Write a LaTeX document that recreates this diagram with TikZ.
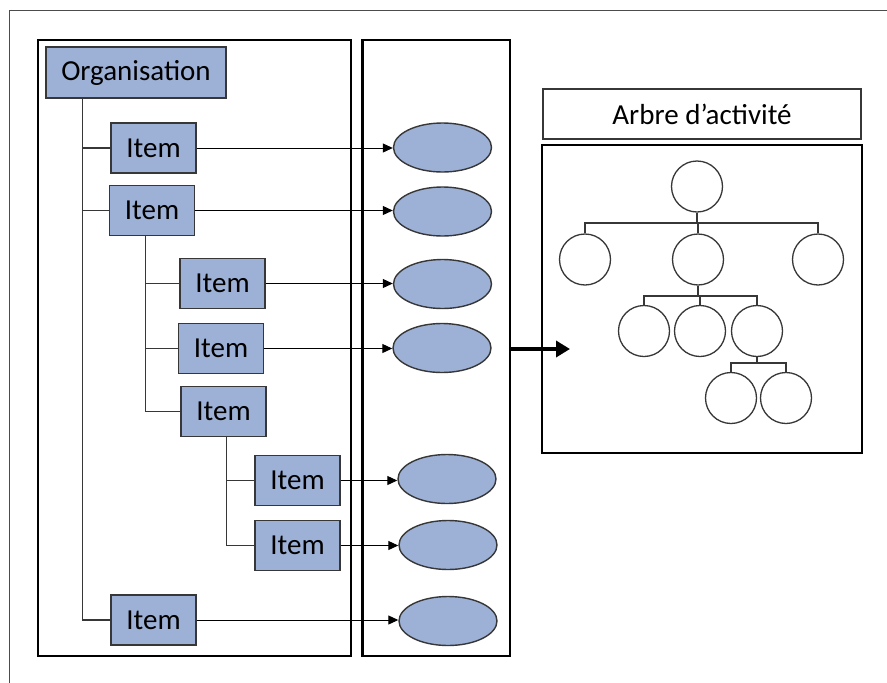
\documentclass[tikz,border=0pt]{standalone}
\usepackage{fontspec}
\setmainfont{Carlito}
\usetikzlibrary{arrows.meta,shapes.geometric}
\definecolor{boxfill}{RGB}{157,177,214}
\definecolor{lineg}{RGB}{55,55,55}
\tikzset{
  itembox/.style={draw=lineg, line width=1.4pt, fill=boxfill, minimum width=85pt, minimum height=50pt, inner sep=0pt, font=\fontsize{29}{34}\selectfont},
  oval/.style={ellipse, draw=lineg, line width=1.4pt, fill=boxfill, minimum width=98pt, minimum height=49pt, inner sep=0pt},
  panel/.style={draw=black, line width=2.5pt, inner sep=0pt},
  treecircle/.style={circle, draw=lineg, line width=1.3pt, minimum size=51pt, inner sep=0pt},
  branch/.style={draw=lineg, line width=1.2pt},
  arr/.style={draw=black, line width=1pt, -{Triangle[length=10pt,width=9pt]}},
  bigarr/.style={draw=black, line width=4.5pt, -{Triangle[length=14pt,width=16pt]}},
}
\begin{document}
\begin{tikzpicture}[x=1pt,y=-1pt]
\useasboundingbox (0,0) rectangle (887,683);
\fill[white] (0,0) rectangle (887,683);
% outer frame (partial)
\coordinate (fa) at (9,683);
\coordinate (fb) at (9,10);
\coordinate (fc) at (887,10);
\draw[line width=1pt, draw=black!70] (fa) -- (fb) -- (fc);
% panels
\node[panel, minimum width=313pt, minimum height=616pt] (leftp) at (194.5,348) {};
\node[panel, minimum width=147.5pt, minimum height=616pt] (midp) at (436.25,348) {};
% left tree
\node[itembox, minimum width=180pt, minimum height=51pt] (org) at (136,72.5) {Organisation};
\node[itembox] (I1) at (153.5,148) {Item};
\node[itembox] (I2) at (152,210.5) {Item};
\node[itembox] (I3) at (222.5,283.5) {Item};
\node[itembox] (I4) at (221,348.5) {Item};
\node[itembox] (I5) at (223.5,411.5) {Item};
\node[itembox] (I6) at (297.5,480.5) {Item};
\node[itembox] (I7) at (297.5,545.5) {Item};
\node[itembox] (I8) at (153.5,620) {Item};
% tree connectors
\draw[branch] ([xshift=37pt]org.south west) |- (I8.west);
\draw[branch] ([xshift=37pt]org.south west) |- (I1.west);
\draw[branch] ([xshift=37pt]org.south west) |- (I2.west);
\draw[branch] ([xshift=37pt]I2.south west) |- (I5.west);
\draw[branch] ([xshift=37pt]I2.south west) |- (I3.west);
\draw[branch] ([xshift=37pt]I2.south west) |- (I4.west);
\draw[branch] ([xshift=46pt]I5.south west) |- (I7.west);
\draw[branch] ([xshift=46pt]I5.south west) |- (I6.west);
% ovals
\node[oval] (E1) at (442.5,147.5) {};
\node[oval] (E2) at (442.5,211.5) {};
\node[oval] (E3) at (442.5,284) {};
\node[oval] (E4) at (442,348) {};
\node[oval] (E5) at (447,479) {};
\node[oval] (E6) at (448,545) {};
\node[oval] (E7) at (448,621) {};
% arrows
\draw[arr] (I1.east) -- (I1.east -| E1.west);
\draw[arr] (I2.east) -- (I2.east -| E2.west);
\draw[arr] (I3.east) -- (I3.east -| E3.west);
\draw[arr] (I4.east) -- (I4.east -| E4.west);
\draw[arr] (I6.east) -- (I6.east -| E5.west);
\draw[arr] (I7.east) -- (I7.east -| E6.west);
\draw[arr] (I8.east) -- (I8.east -| E7.west);
% right side
\node[draw=lineg, line width=1.2pt, minimum width=318pt, minimum height=50pt, inner sep=0pt, font=\fontsize{29}{34}\selectfont] (title) at (702,114) {Arbre d’activité};
\node[panel, minimum width=320pt, minimum height=308pt] (treep) at (702,299) {};
\coordinate (tip) at (570,349);
\draw[bigarr] (midp.east |- tip) -- (tip);
% activity tree
\node[treecircle] (R) at (697,186.5) {};
\node[treecircle] (A1) at (585,259.5) {};
\node[treecircle] (A2) at (698,259.5) {};
\node[treecircle] (A3) at (818,259.5) {};
\node[treecircle] (B1) at (644,331) {};
\node[treecircle] (B2) at (700,331) {};
\node[treecircle] (B3) at (757,331) {};
\node[treecircle] (C1) at (731,398) {};
\node[treecircle] (C2) at (786,398) {};
\coordinate (bus1) at (697,223);
\coordinate (bus2) at (699,296);
\coordinate (bus3) at (759,363);
\draw[branch] (R.south) -- (bus1);
\draw[branch] (A1.north) |- (bus1) -| (A3.north);
\draw[branch] (A2.north) -- (A2.north |- bus1);
\draw[branch] (A2.south) -- (A2.south |- bus2);
\draw[branch] (B1.north) |- (bus2) -| (B3.north);
\draw[branch] (B2.north) -- (B2.north |- bus2);
\draw[branch] (B3.south) -- (B3.south |- bus3);
\draw[branch] (C1.north) |- (bus3) -| (C2.north);
\end{tikzpicture}
\end{document}
